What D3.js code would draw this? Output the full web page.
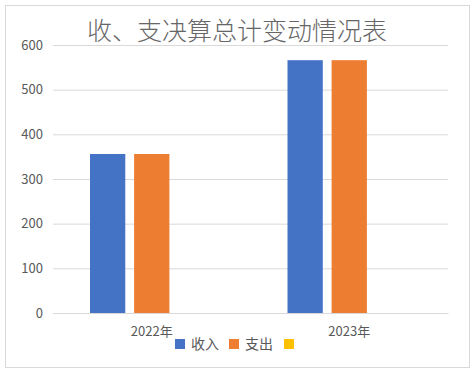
<!DOCTYPE html>
<html>
<head>
<meta charset="utf-8">
<script src="https://cdn.jsdelivr.net/npm/d3@7"></script>
<style>
  html, body { margin: 0; padding: 0; background: #fff; }
  #chart { width: 476px; height: 374px; }
</style>
</head>
<body>
<div id="chart"></div>
<script>
const categories = ["2022年", "2023年"];
const seriesNames = ["收入", "支出", ""];
const seriesColors = ["#4472C4", "#ED7D31", "#FFC000"];
const income = [356, 566];
const expense = [356, 566];
const third = [0, 0];
const yTicks = [0, 100, 200, 300, 400, 500, 600];

const width = 476;
const height = 374;
const font = "'Noto Sans CJK SC', 'Noto Sans', sans-serif";
const margin = { top: 45, right: 28, bottom: 61, left: 53 };
const innerWidth = width - margin.left - margin.right;
const innerHeight = height - margin.top - margin.bottom;

const svg = d3.select("#chart")
  .append("svg")
  .attr("width", width)
  .attr("height", height)
  .attr("viewBox", `0 0 ${width} ${height}`);

svg.append("rect")
  .attr("x", 5.5)
  .attr("y", 5.5)
  .attr("width", 464)
  .attr("height", 362)
  .attr("fill", "#fff")
  .attr("stroke", "#d9d9d9");

const chart = svg.append("g")
  .attr("transform", `translate(${margin.left}, ${margin.top})`);

const x0 = d3.scaleBand()
  .domain(categories)
  .range([0, innerWidth])
  .paddingInner(0)
  .paddingOuter(0);

const x1 = d3.scaleBand()
  .domain(seriesNames.map((_, i) => i))
  .range([37, x0.bandwidth() - 37])
  .paddingInner(0.2);

const y = d3.scaleLinear()
  .domain([0, 600])
  .range([innerHeight, 0]);

chart.append("g")
  .call(d3.axisLeft(y).tickValues(yTicks).tickSize(-innerWidth).tickPadding(10))
  .call((g) => g.select(".domain").remove())
  .call((g) => g.selectAll(".tick line").attr("stroke", "#d9d9d9"))
  .call((g) => g.selectAll(".tick text")
    .attr("fill", "#595959")
    .attr("font-size", 13)
    .attr("font-family", font));

const rows = categories.map((c, i) => ({
  label: c,
  values: [income[i], expense[i], third[i]],
}));

const group = chart.selectAll("g.bar-group")
  .data(rows)
  .enter()
  .append("g")
  .attr("class", "bar-group")
  .attr("transform", (d) => `translate(${x0(d.label)}, 0)`);

group.selectAll("rect")
  .data((d) => d.values.map((v, i) => ({ i, v })))
  .enter()
  .append("rect")
  .attr("x", (d) => x1(d.i))
  .attr("y", (d) => y(d.v))
  .attr("width", x1.bandwidth())
  .attr("height", (d) => y(0) - y(d.v))
  .attr("fill", (d) => seriesColors[d.i]);

chart.append("g")
  .attr("transform", `translate(0, ${innerHeight})`)
  .call(d3.axisBottom(x0).tickSize(0).tickPadding(14))
  .call((g) => g.select(".domain").attr("stroke", "#d9d9d9"))
  .call((g) => g.selectAll("text")
    .attr("fill", "#595959")
    .attr("font-size", 13)
    .attr("font-family", font));

svg.append("text")
  .attr("x", 237)
  .attr("y", 40)
  .attr("text-anchor", "middle")
  .attr("fill", "#666")
  .attr("font-size", 25)
  .attr("font-weight", 300)
  .attr("font-family", font)
  .text("收、支决算总计变动情况表");

const legend = svg.append("g")
  .attr("transform", "translate(175, 344)");

const legendX = [0, 54, 109];
seriesNames.forEach((name, i) => {
  const entry = legend.append("g").attr("transform", `translate(${legendX[i]}, 0)`);
  entry.append("rect")
    .attr("x", 0)
    .attr("y", -5)
    .attr("width", 10)
    .attr("height", 10)
    .attr("fill", seriesColors[i]);
  entry.append("text")
    .attr("x", 16)
    .attr("y", 5)
    .attr("fill", "#595959")
    .attr("font-size", 14)
    .attr("font-family", font)
    .text(name);
});
</script>
</body>
</html>
